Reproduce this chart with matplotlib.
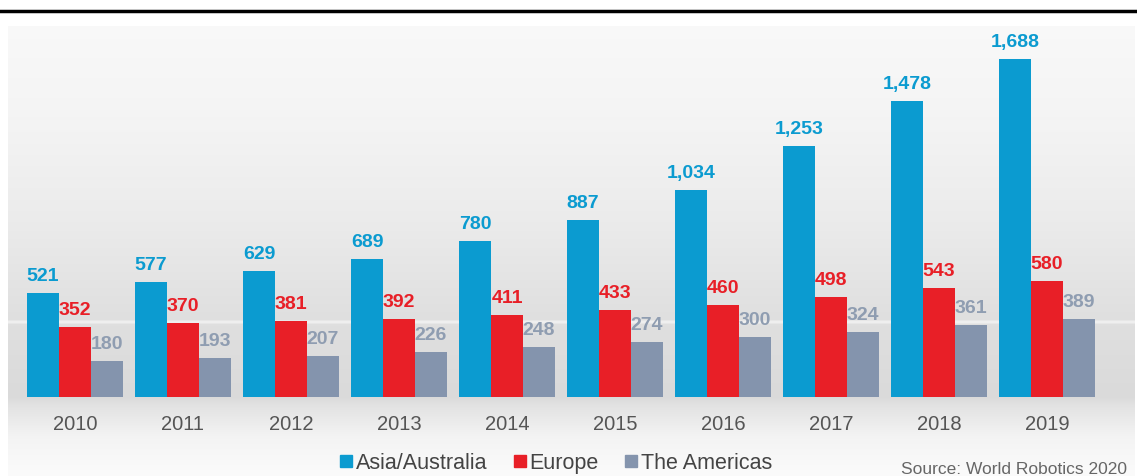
import matplotlib.pyplot as plt
import numpy as np
from matplotlib.lines import Line2D

# Chart data (thousands of units)
years = ['2010', '2011', '2012', '2013', '2014', '2015', '2016', '2017', '2018', '2019']
asia = [521, 577, 629, 689, 780, 887, 1034, 1253, 1478, 1688]
europe = [352, 370, 381, 392, 411, 433, 460, 498, 543, 580]
americas = [180, 193, 207, 226, 248, 274, 300, 324, 361, 389]
series_names = ['Asia/Australia', 'Europe', 'The Americas']

BLUE = '#0b9bd0'
RED = '#e81f27'
GREY = '#8494ad'
LABEL_GREY = '#8f9db1'
TICK_COLOR = '#555555'

W, H = 1137, 477
plt.rcParams['font.family'] = ['Liberation Sans', 'DejaVu Sans']

fig = plt.figure(figsize=(W / 100, H / 100), dpi=100)
fig.patch.set_facecolor('white')

# thick rule under the (cropped) caption
fig.add_artist(Line2D([0, 1], [1 - 12 / H, 1 - 12 / H], color='black', lw=2.5,
                      transform=fig.transFigure))

# soft grey gradient backdrop of the embedded picture
bg_left, bg_right, bg_top = 8, 1135, 27
bg = fig.add_axes([bg_left / W, 0, (bg_right - bg_left) / W, 1 - bg_top / H])
rows = np.arange(H - bg_top)
stops_y = [0, 100, 200, 293, 295, 296, 298, 370, 380, 410, 450]
stops_v = [0.975, 0.955, 0.92, 0.875, 0.94, 0.94, 0.875, 0.855, 0.89, 0.955, 0.985]
shade = np.interp(rows, stops_y, stops_v)
img = np.repeat(shade[:, None], 50, axis=1)
bg.imshow(np.dstack([img, img, img]), aspect='auto', extent=[0, 1, 0, 1])
bg.axis('off')

# main bar axes: baseline at y=398 px, 0.2 px per unit
base_px = 398
ax = fig.add_axes([bg_left / W, (H - base_px) / H, (bg_right - bg_left) / W,
                   (base_px - bg_top) / H])
ax.patch.set_alpha(0)
ax.set_ylim(0, (base_px - bg_top) / 0.2)
ax.set_xlim((bg_left - 75) / 108, (bg_right - 75) / 108)

x = np.arange(len(years))
bw = 0.296
groups = [(asia, BLUE, BLUE), (europe, RED, RED), (americas, GREY, LABEL_GREY)]
for k, (vals, col, lcol) in enumerate(groups):
    pos = x + (k - 1) * bw
    ax.bar(pos, vals, width=bw, color=col, edgecolor='none')
    for p, v in zip(pos, vals):
        ax.text(p, v + 45, f'{v:,}', ha='center', va='bottom', fontsize=14,
                fontweight='bold', color=lcol)

ax.set_yticks([])
ax.set_xticks([])
for s in ax.spines.values():
    s.set_visible(False)

# year labels
for xi, yr in zip(x, years):
    ax.annotate(yr, (xi, 0), xytext=(0, -19), textcoords='offset points',
                ha='center', va='center', fontsize=14.5, color=TICK_COLOR,
                annotation_clip=False)

handles = [Line2D([], [], marker='s', ls='none', markersize=8, color=c)
           for c in (BLUE, RED, GREY)]
fig.legend(handles, series_names, loc='center', bbox_to_anchor=(555 / W, 1 - 464 / H),
           ncol=3, frameon=False, fontsize=15.5, handletextpad=0.05,
           columnspacing=1.1, handlelength=0.8, labelcolor='#444444')

fig.text(1127 / W, 1 - 470 / H, 'Source: World Robotics 2020', ha='right', va='center',
         fontsize=12.5, color='#666666')

fig.savefig('out.png', dpi=100)
